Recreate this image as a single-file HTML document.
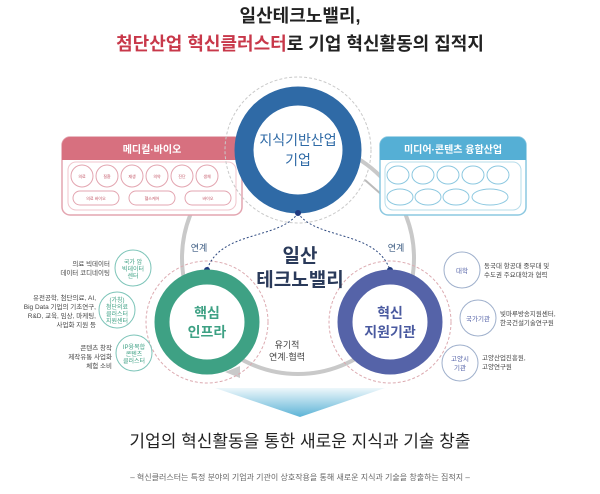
<!DOCTYPE html>
<html><head><meta charset="utf-8"><style>
body{margin:0;background:#fff;width:600px;height:489px;overflow:hidden}
svg text{font-family:"Liberation Sans","Noto Sans CJK KR",sans-serif}
</style></head><body>
<svg width="600" height="489" viewBox="0 0 600 489" xmlns="http://www.w3.org/2000/svg">
<defs>
<linearGradient id="tri" x1="0" y1="0" x2="0" y2="1"><stop offset="0" stop-color="#eef7fb"/><stop offset="1" stop-color="#5cb3d6"/></linearGradient>
</defs>
<text x="300" y="22" text-anchor="middle" font-size="18" font-weight="bold" fill="#222">일산테크노밸리,</text>
<text x="300" y="50" text-anchor="middle" font-size="18" font-weight="bold"><tspan fill="#c8384a">첨단산업 혁신클러스터</tspan><tspan fill="#222">로 기업 혁신활동의 집적지</tspan></text>

<!-- big gray circle -->
<circle cx="298" cy="258" r="116" fill="none" stroke="#c9c9c9" stroke-width="4"/>
<path d="M240 378 L225 372 L240 366 Z" fill="#c9c9c9"/>
<!-- connectors to boxes -->
<line x1="242" y1="190" x2="225" y2="200" stroke="#bbb" stroke-width="2"/>
<line x1="365" y1="180" x2="382" y2="195" stroke="#bbb" stroke-width="2"/>

<!-- pink box -->
<rect x="62" y="137" width="180" height="78" rx="8" fill="#fff" stroke="#e3a5b0" stroke-width="1.5"/>
<path d="M62 160 V145 a8 8 0 0 1 8 -8 H234 a8 8 0 0 1 8 8 V160 Z" fill="#d7707f"/>
<text x="152" y="153" text-anchor="middle" font-size="10" fill="#fff" font-weight="bold">메디컬·바이오</text>
<rect x="68" y="162" width="168" height="48" rx="8" fill="#fff" stroke="#f0c6cd"/>
<g fill="none" stroke="#e3a5b0">
<circle cx="82" cy="176" r="11"/><circle cx="107" cy="176" r="11"/><circle cx="132" cy="176" r="11"/><circle cx="157" cy="176" r="11"/><circle cx="182" cy="176" r="11"/><circle cx="207" cy="176" r="11"/>
<rect x="73" y="191" width="46" height="14" rx="7"/><rect x="129" y="191" width="46" height="14" rx="7"/><rect x="185" y="191" width="46" height="14" rx="7"/>
</g>
<g font-size="4" fill="#c05060" text-anchor="middle">
<text x="82" y="178">의료</text><text x="107" y="178">질환</text><text x="132" y="178">재생</text><text x="157" y="178">의약</text><text x="182" y="178">진단</text><text x="207" y="178">생체</text>
<text x="96" y="200">의료 바이오</text><text x="152" y="200">헬스케어</text><text x="208" y="200">바이오</text>
</g>

<!-- blue box -->
<rect x="380" y="137" width="146" height="78" rx="8" fill="#fff" stroke="#8cc8e0" stroke-width="1.5"/>
<path d="M380 160 V145 a8 8 0 0 1 8 -8 H518 a8 8 0 0 1 8 8 V160 Z" fill="#55afd5"/>
<text x="453" y="153" text-anchor="middle" font-size="10" fill="#fff" font-weight="bold">미디어·콘텐츠 융합산업</text>
<rect x="385" y="162" width="136" height="48" rx="8" fill="#fff" stroke="#b7dcea"/>
<g fill="none" stroke="#8cc8e0">
<ellipse cx="398" cy="175" rx="11" ry="9"/><ellipse cx="423" cy="175" rx="11" ry="9"/><ellipse cx="448" cy="175" rx="11" ry="9"/><ellipse cx="473" cy="175" rx="11" ry="9"/><ellipse cx="498" cy="175" rx="11" ry="9"/>
<ellipse cx="400" cy="197" rx="13" ry="8"/><ellipse cx="428" cy="197" rx="13" ry="8"/><ellipse cx="456" cy="197" rx="13" ry="8"/><ellipse cx="490" cy="197" rx="18" ry="8"/>
</g>

<!-- dashed rings -->
<circle cx="298" cy="150" r="73" fill="none" stroke="#c9c9c9" stroke-dasharray="3 2"/>
<circle cx="207" cy="322" r="61" fill="none" stroke="#dcaab0" stroke-dasharray="3 2"/>
<circle cx="390" cy="322" r="61" fill="none" stroke="#dcaab0" stroke-dasharray="3 2"/>

<!-- top circle -->
<circle cx="298" cy="150" r="54" fill="#fff" stroke="#2f6aa6" stroke-width="19"/>
<text x="298" y="145" text-anchor="middle" font-size="14" fill="#2f6aa6">지식기반산업</text>
<text x="298" y="165" text-anchor="middle" font-size="14" fill="#2f6aa6">기업</text>

<!-- dashed connectors -->
<path d="M298 213 C280 240 220 230 207 270" fill="none" stroke="#2f4a80" stroke-dasharray="2 2"/>
<path d="M298 213 C316 240 376 230 390 270" fill="none" stroke="#2f4a80" stroke-dasharray="2 2"/>
<circle cx="298" cy="213" r="3" fill="#1f3a80"/>
<circle cx="207" cy="270" r="3" fill="#1f3a80"/>
<circle cx="390" cy="270" r="3" fill="#1f3a80"/>
<text x="199" y="251" text-anchor="middle" font-size="9" fill="#3a5a80">연계</text>
<text x="396" y="251" text-anchor="middle" font-size="9" fill="#3a5a80">연계</text>

<text x="300" y="262" text-anchor="middle" font-size="19" font-weight="bold" fill="#2a3a5a">일산</text>
<text x="300" y="286" text-anchor="middle" font-size="19" font-weight="bold" fill="#2a3a5a">테크노밸리</text>
<text x="287" y="348" text-anchor="middle" font-size="9" fill="#444">유기적</text>
<text x="287" y="360" text-anchor="middle" font-size="9" fill="#444">연계·협력</text>

<!-- left circle -->
<circle cx="207" cy="322" r="45" fill="#fff" stroke="#3ea184" stroke-width="15"/>
<text x="207" y="318" text-anchor="middle" font-size="14" font-weight="bold" fill="#3ea184">핵심</text>
<text x="207" y="337" text-anchor="middle" font-size="14" font-weight="bold" fill="#3ea184">인프라</text>
<!-- right circle -->
<circle cx="390" cy="322" r="45" fill="#fff" stroke="#5563a8" stroke-width="15"/>
<text x="390" y="318" text-anchor="middle" font-size="14" font-weight="bold" fill="#4a5aa0">혁신</text>
<text x="390" y="337" text-anchor="middle" font-size="14" font-weight="bold" fill="#4a5aa0">지원기관</text>

<!-- left small circles -->
<g fill="#fff" stroke="#7cc4b8">
<circle cx="133" cy="268" r="18"/><circle cx="117" cy="310" r="18"/><circle cx="134" cy="353" r="18"/>
</g>
<g font-size="6" fill="#3ea184" text-anchor="middle">
<text x="133" y="264">국가 암</text><text x="133" y="271">빅데이터</text><text x="133" y="278">센터</text>
<text x="117" y="302">(가칭)</text><text x="117" y="309">첨단의료</text><text x="117" y="316">클러스터</text><text x="117" y="323">지원센터</text>
<text x="134" y="349">IP융복합</text><text x="134" y="356">콘텐츠</text><text x="134" y="363">클러스터</text>
</g>
<g font-size="6.5" fill="#444" text-anchor="end">
<text x="110" y="266">의료 빅데이터</text><text x="110" y="275">데이터 코디네이팅</text>
<text x="96" y="300">유전공학, 첨단의료, AI,</text><text x="96" y="309">Big Data 기업의 기초연구,</text><text x="96" y="318">R&amp;D, 교육, 임상, 마케팅,</text><text x="96" y="327">사업화 지원 등</text>
<text x="112" y="350">콘텐츠 창작</text><text x="112" y="359">제작유통 사업화</text><text x="112" y="368">체험 소비</text>
</g>

<!-- right small circles -->
<g fill="#fff" stroke="#9fb0cc">
<circle cx="462" cy="270" r="18"/><circle cx="478" cy="318" r="18"/><circle cx="460" cy="363" r="18"/>
</g>
<g font-size="6.5" fill="#5563a8" text-anchor="middle">
<text x="462" y="273">대학</text><text x="478" y="321">국가기관</text><text x="460" y="361">고양시</text><text x="460" y="370">기관</text>
</g>
<g font-size="6.5" fill="#444">
<text x="484" y="268">동국대 항공대 중부대 및</text><text x="484" y="277">수도권 주요대학과 협력</text>
<text x="500" y="316">빛마루방송지원센터,</text><text x="500" y="325">한국건설기술연구원</text>
<text x="482" y="360">고양산업진흥원,</text><text x="482" y="369">고양연구원</text>
</g>

<!-- bottom -->
<path d="M215 388 H385 L300 417 Z" fill="url(#tri)"/>
<text x="300" y="447" text-anchor="middle" font-size="17" fill="#222">기업의 혁신활동을 통한 새로운 지식과 기술 창출</text>
<text x="300" y="480" text-anchor="middle" font-size="8" fill="#666">– 혁신클러스터는 특정 분야의 기업과 기관이 상호작용을 통해 새로운 지식과 기술을 창출하는 집적지 –</text>
</svg>
</body></html>
